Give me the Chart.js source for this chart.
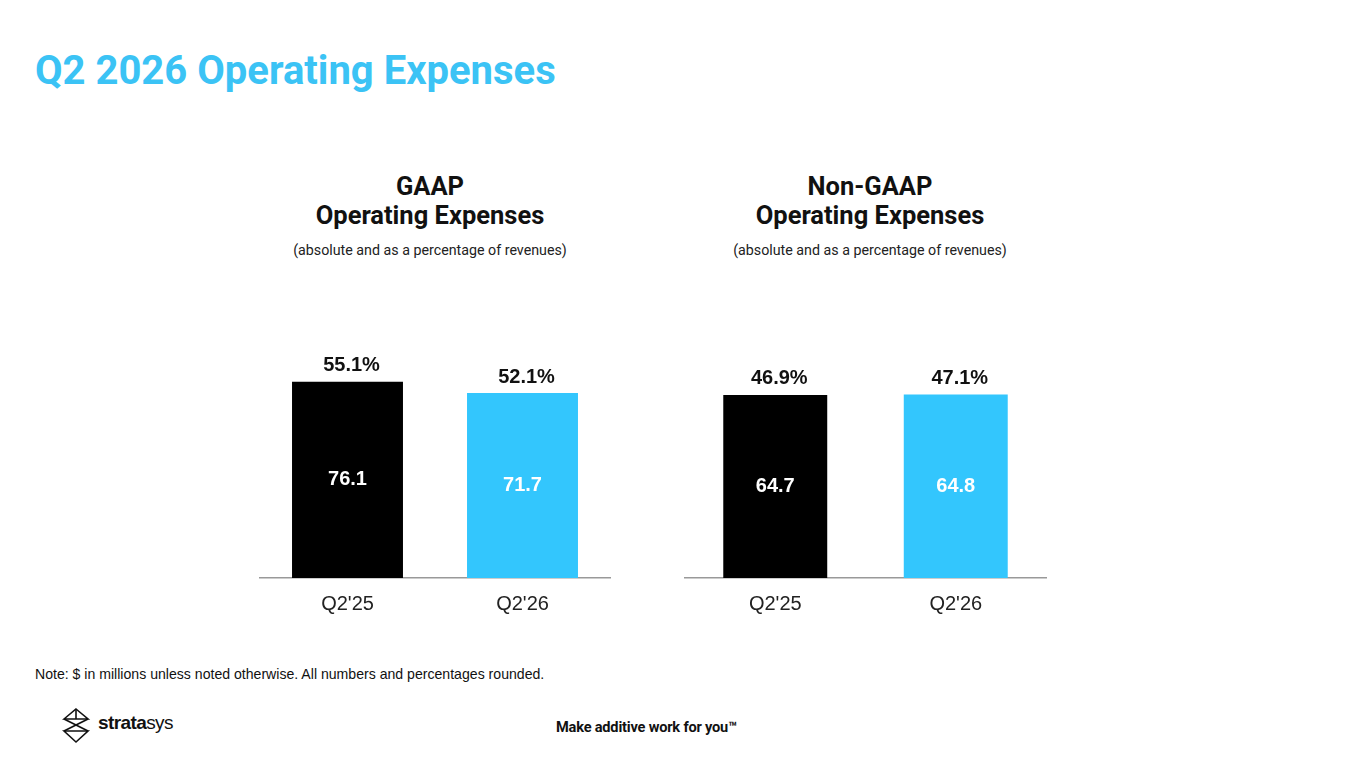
<!DOCTYPE html>
<html>
<head>
<meta charset="utf-8">
<script src="https://cdn.jsdelivr.net/npm/chart.js@4.4.1/dist/chart.umd.min.js"></script>
<style>
  html,body{margin:0;padding:0;background:#fff;}
  body{width:1365px;height:768px;position:relative;overflow:hidden;font-family:Roboto,"Liberation Sans",Arial,sans-serif;}
  .abs{position:absolute;}
  #title{left:35px;top:47px;font:700 40px/48px Roboto;color:#3BC3F5;white-space:nowrap;}
  .sub{font:700 25.5px/29px Roboto;color:#111;text-align:center;width:400px;}
  .subsmall{font:400 14.25px/16px Roboto;color:#222;text-align:center;width:400px;}
  #note{left:35px;top:666px;font:400 14.1px/16px "Liberation Sans",Arial;color:#111;white-space:nowrap;}
  #tag{left:556px;top:719px;font:700 14.6px/16px Roboto;color:#111;white-space:nowrap;letter-spacing:-0.2px;}
  #logo{left:62px;top:708px;width:120px;height:36px;}
  #logotext{left:98px;top:711px;font:400 19px/24px "Liberation Sans",Arial;color:#111;letter-spacing:-0.6px;white-space:nowrap;}
</style>
</head>
<body>
<div id="title" class="abs">Q2 2026 Operating Expenses</div>

<div class="abs sub" style="left:230px;top:172px;">GAAP<br>Operating Expenses</div>
<div class="abs subsmall" style="left:230px;top:242px;">(absolute and as a percentage of revenues)</div>

<div class="abs sub" style="left:670px;top:172px;">Non-GAAP<br>Operating Expenses</div>
<div class="abs subsmall" style="left:670px;top:242px;">(absolute and as a percentage of revenues)</div>

<div class="abs" style="left:250px;top:300px;width:370px;height:330px;"><canvas id="c1"></canvas></div>
<div class="abs" style="left:675px;top:280px;width:381px;height:350px;"><canvas id="c2"></canvas></div>

<div id="note" class="abs">Note: $ in millions unless noted otherwise. All numbers and percentages rounded.</div>

<svg id="logo" class="abs" viewBox="0 0 120 36" xmlns="http://www.w3.org/2000/svg">
  <g fill="none" stroke="#111" stroke-width="1.6" stroke-linejoin="miter">
    <path d="M14 1 L26 11 L2 11 Z"/>
    <path d="M2 11 L26 23"/>
    <path d="M26 11 L2 23"/>
    <path d="M2 23 L26 23 L14 34 Z"/>
    <path d="M14 1 L14 11"/>
  </g>
</svg>
<div id="logotext" class="abs"><b>strata</b>sys</div>

<div id="tag" class="abs">Make additive work for you™</div>

<script>
const categories = ["Q2'25", "Q2'26"];
const gaapValues = [76.1, 71.7];
const gaapPercents = ["55.1%", "52.1%"];
const nonGaapValues = [64.7, 64.8];
const nonGaapPercents = ["46.9%", "47.1%"];
const barColors = ["#000000", "#33C6FD"];
const valueLabelColors = ["#FFFFFF", "#FFFFFF"];

const labelPlugin = {
  id: 'barLabels',
  afterDatasetsDraw(chart, args, opts) {
    const ctx = chart.ctx;
    const meta = chart.getDatasetMeta(0);
    ctx.save();
    ctx.textAlign = 'center';
    ctx.textBaseline = 'middle';
    meta.data.forEach((bar, i) => {
      const val = chart.data.datasets[0].data[i];
      ctx.font = 'bold 20px "Liberation Sans", Arial';
      ctx.fillStyle = '#111';
      ctx.fillText(opts.percents[i], bar.x + 4, bar.y - 16);
      ctx.fillStyle = valueLabelColors[i];
      ctx.fillText(val.toFixed(1), bar.x, (bar.y + bar.base) / 2);
    });
    ctx.restore();
  }
};

function makeChart(id, values, percents, barPct, padTop) {
  return new Chart(document.getElementById(id), {
    type: 'bar',
    data: {
      labels: categories,
      datasets: [{
        data: values,
        backgroundColor: barColors,
        borderWidth: 0,
        categoryPercentage: 1,
        barPercentage: barPct
      }]
    },
    plugins: [labelPlugin],
    options: {
      responsive: true,
      maintainAspectRatio: false,
      animation: false,
      layout: { padding: { left: 10, right: 10, top: padTop, bottom: 0 } },
      plugins: {
        legend: { display: false },
        tooltip: { enabled: false },
        barLabels: { percents: percents }
      },
      scales: {
        x: {
          grid: { display: false, drawTicks: false },
          border: { display: true, color: '#999', width: 1.5 },
          ticks: { color: '#222', font: { family: '"Liberation Sans", Arial', size: 20 }, padding: 14 }
        },
        y: {
          display: false,
          min: 0,
          max: 100
        }
      }
    }
  });
}

makeChart('c1', gaapValues, gaapPercents, 0.634, 20);
makeChart('c2', nonGaapValues, nonGaapPercents, 0.576, 15);
</script>
</body>
</html>
